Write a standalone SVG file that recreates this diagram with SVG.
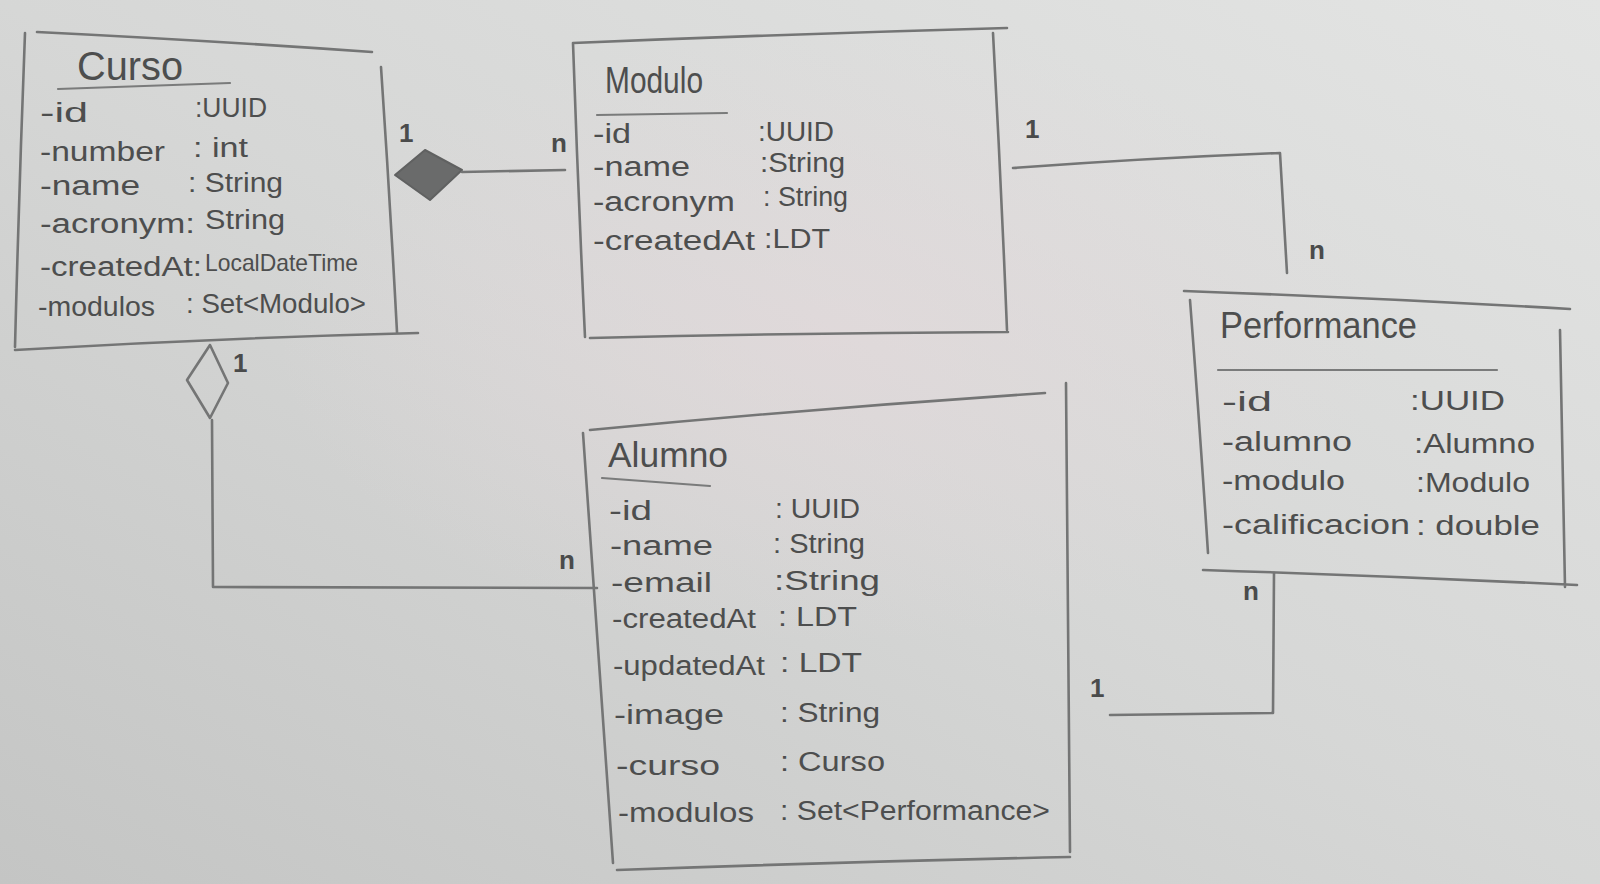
<svg xmlns="http://www.w3.org/2000/svg" width="1600" height="884" viewBox="0 0 1600 884">
  <defs>
    <linearGradient id="paper" x1="1" y1="0" x2="0" y2="1">
      <stop offset="0" stop-color="#e3e4e3"/>
      <stop offset="0.5" stop-color="#d6d7d6"/>
      <stop offset="1" stop-color="#c4c5c4"/>
    </linearGradient>
    <radialGradient id="tint" cx="0.52" cy="0.38" r="0.35">
      <stop offset="0" stop-color="#e6d9dc" stop-opacity="0.55"/>
      <stop offset="1" stop-color="#e6d9dc" stop-opacity="0"/>
    </radialGradient>
  </defs>
  <style>
    .ln { fill: none; stroke: #747575; stroke-width: 2.6; stroke-linecap: round; stroke-linejoin: round; }
    .lt { fill: none; stroke: #7a7b7b; stroke-width: 2.2; stroke-linecap: round; }
    .t  { font-family: "Liberation Sans", "DejaVu Sans", sans-serif; fill: #4d4e4e; }
    .ttl { font-size: 36px; }
    .at { font-size: 27px; }
    .mul { font-family: "Liberation Sans", "DejaVu Sans", sans-serif; font-size: 26px; fill: #4a4b4b; font-weight: bold; }
  </style>

  <rect width="1600" height="884" fill="url(#paper)"/>
  <rect width="1600" height="884" fill="url(#tint)"/>

  <!-- Curso -->
  <g id="node-curso">
    <path class="ln" d="M37,32 Q200,40 372,52 M25,33 Q19,190 15,347 M381,67 Q390,200 397,332 M15,350 Q220,338 418,333"/>
    <path class="lt" d="M58,89 L230,83"/>
    <text class="t ttl" x="77" y="80" textLength="106" lengthAdjust="spacingAndGlyphs" style="font-size:40px">Curso</text>
    <text class="t at" x="40" y="122" textLength="48" lengthAdjust="spacingAndGlyphs">-id</text>
    <text class="t at" x="195" y="117" textLength="72" lengthAdjust="spacingAndGlyphs">:UUID</text>
    <text class="t at" x="40" y="161" textLength="125" lengthAdjust="spacingAndGlyphs">-number</text>
    <text class="t at" x="193" y="157" textLength="55" lengthAdjust="spacingAndGlyphs">: int</text>
    <text class="t at" x="40" y="195" textLength="100" lengthAdjust="spacingAndGlyphs">-name</text>
    <text class="t at" x="188" y="192" textLength="95" lengthAdjust="spacingAndGlyphs">: String</text>
    <text class="t at" x="40" y="233" textLength="155" lengthAdjust="spacingAndGlyphs">-acronym:</text>
    <text class="t at" x="205" y="229" textLength="80" lengthAdjust="spacingAndGlyphs">String</text>
    <text class="t at" x="40" y="276" textLength="162" lengthAdjust="spacingAndGlyphs">-createdAt:</text>
    <text class="t at" x="205" y="271" textLength="153" lengthAdjust="spacingAndGlyphs" style="font-size:24px">LocalDateTime</text>
    <text class="t at" x="38" y="316" textLength="117" lengthAdjust="spacingAndGlyphs">-modulos</text>
    <text class="t at" x="186" y="313" textLength="180" lengthAdjust="spacingAndGlyphs">: Set&lt;Modulo&gt;</text>
  </g>

  <!-- Modulo -->
  <g id="node-modulo">
    <path class="ln" d="M573,43 Q790,34 1007,28 M573,43 Q578,190 585,337 M993,33 Q1001,180 1007,330 M590,338 Q800,333 1008,332"/>
    <path class="lt" d="M597,115 L727,113"/>
    <text class="t ttl" x="605" y="93" textLength="98" lengthAdjust="spacingAndGlyphs" style="font-size:37px">Modulo</text>
    <text class="t at" x="593" y="143" textLength="38" lengthAdjust="spacingAndGlyphs">-id</text>
    <text class="t at" x="758" y="141" textLength="76" lengthAdjust="spacingAndGlyphs">:UUID</text>
    <text class="t at" x="593" y="176" textLength="97" lengthAdjust="spacingAndGlyphs">-name</text>
    <text class="t at" x="760" y="172" textLength="85" lengthAdjust="spacingAndGlyphs">:String</text>
    <text class="t at" x="593" y="211" textLength="142" lengthAdjust="spacingAndGlyphs">-acronym</text>
    <text class="t at" x="763" y="206" textLength="85" lengthAdjust="spacingAndGlyphs">: String</text>
    <text class="t at" x="593" y="250" textLength="162" lengthAdjust="spacingAndGlyphs">-createdAt</text>
    <text class="t at" x="764" y="248" textLength="66" lengthAdjust="spacingAndGlyphs">:LDT</text>
  </g>

  <!-- Performance -->
  <g id="node-performance">
    <path class="ln" d="M1184,291 Q1380,298 1570,309 M1190,300 Q1200,430 1208,553 M1560,330 Q1563,460 1565,587 M1203,570 Q1390,576 1577,585"/>
    <path class="lt" d="M1218,370 L1497,370"/>
    <text class="t ttl" x="1220" y="338" textLength="197" lengthAdjust="spacingAndGlyphs" style="font-size:36px">Performance</text>
    <text class="t at" x="1222" y="411" textLength="50" lengthAdjust="spacingAndGlyphs">-id</text>
    <text class="t at" x="1410" y="410" textLength="95" lengthAdjust="spacingAndGlyphs">:UUID</text>
    <text class="t at" x="1222" y="451" textLength="130" lengthAdjust="spacingAndGlyphs">-alumno</text>
    <text class="t at" x="1414" y="453" textLength="121" lengthAdjust="spacingAndGlyphs">:Alumno</text>
    <text class="t at" x="1222" y="490" textLength="123" lengthAdjust="spacingAndGlyphs">-modulo</text>
    <text class="t at" x="1416" y="492" textLength="114" lengthAdjust="spacingAndGlyphs">:Modulo</text>
    <text class="t at" x="1222" y="534" textLength="188" lengthAdjust="spacingAndGlyphs">-calificacion</text>
    <text class="t at" x="1416" y="535" textLength="124" lengthAdjust="spacingAndGlyphs">: double</text>
  </g>

  <!-- Alumno -->
  <g id="node-alumno">
    <path class="ln" d="M590,430 Q820,408 1045,393 M583,433 Q598,650 613,863 M1066,383 Q1068,620 1070,852 M617,870 Q840,862 1070,857"/>
    <path class="lt" d="M602,478 L710,486"/>
    <text class="t ttl" x="608" y="467" textLength="120" lengthAdjust="spacingAndGlyphs" style="font-size:35px">Alumno</text>
    <text class="t at" x="609" y="520" textLength="43" lengthAdjust="spacingAndGlyphs">-id</text>
    <text class="t at" x="775" y="518" textLength="85" lengthAdjust="spacingAndGlyphs">: UUID</text>
    <text class="t at" x="610" y="555" textLength="103" lengthAdjust="spacingAndGlyphs">-name</text>
    <text class="t at" x="773" y="553" textLength="92" lengthAdjust="spacingAndGlyphs">: String</text>
    <text class="t at" x="611" y="592" textLength="101" lengthAdjust="spacingAndGlyphs">-email</text>
    <text class="t at" x="774" y="590" textLength="106" lengthAdjust="spacingAndGlyphs">:String</text>
    <text class="t at" x="612" y="628" textLength="144" lengthAdjust="spacingAndGlyphs">-createdAt</text>
    <text class="t at" x="778" y="626" textLength="79" lengthAdjust="spacingAndGlyphs">: LDT</text>
    <text class="t at" x="613" y="675" textLength="152" lengthAdjust="spacingAndGlyphs">-updatedAt</text>
    <text class="t at" x="780" y="672" textLength="82" lengthAdjust="spacingAndGlyphs">: LDT</text>
    <text class="t at" x="614" y="724" textLength="110" lengthAdjust="spacingAndGlyphs">-image</text>
    <text class="t at" x="780" y="722" textLength="100" lengthAdjust="spacingAndGlyphs">: String</text>
    <text class="t at" x="616" y="775" textLength="104" lengthAdjust="spacingAndGlyphs">-curso</text>
    <text class="t at" x="780" y="771" textLength="105" lengthAdjust="spacingAndGlyphs">: Curso</text>
    <text class="t at" x="618" y="822" textLength="136" lengthAdjust="spacingAndGlyphs">-modulos</text>
    <text class="t at" x="780" y="820" textLength="270" lengthAdjust="spacingAndGlyphs">: Set&lt;Performance&gt;</text>
  </g>

  <!-- associations -->
  <g id="connectors">
    <!-- Curso composition Modulo -->
    <path d="M395,175 L425,150 L462,170 L430,200 Z" fill="#6a6b6b" stroke="#606161" stroke-width="2" stroke-linejoin="round"/>
    <path class="ln" d="M462,172 L565,170"/>
    <text class="mul" x="399" y="142">1</text>
    <text class="mul" x="551" y="152">n</text>

    <!-- Curso aggregation Alumno -->
    <path class="ln" d="M210,345 L187,380 L210,418 L228,383 Z"/>
    <path class="ln" d="M212,420 L213,587 L597,588"/>
    <text class="mul" x="233" y="372">1</text>
    <text class="mul" x="559" y="569">n</text>

    <!-- Modulo to Performance -->
    <path class="ln" d="M1013,168 Q1150,158 1280,153 L1287,273"/>
    <text class="mul" x="1025" y="138">1</text>
    <text class="mul" x="1309" y="259">n</text>

    <!-- Alumno to Performance -->
    <path class="ln" d="M1274,573 L1273,713 L1110,715"/>
    <text class="mul" x="1243" y="600">n</text>
    <text class="mul" x="1090" y="697">1</text>
  </g>
</svg>
